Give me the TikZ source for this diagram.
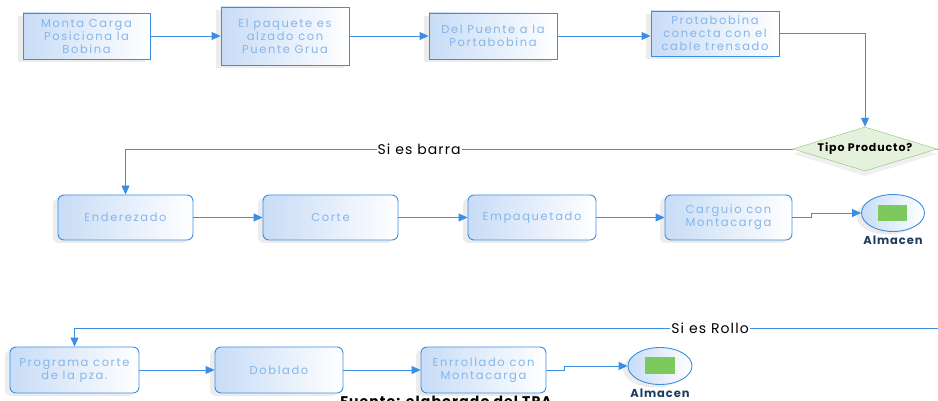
\documentclass[tikz,border=0pt]{standalone}
\usepackage{fontspec}
\setmainfont{Poppins}
\newfontfamily\boxfont[LetterSpace=14]{Poppins}
\newfontfamily\labfont[LetterSpace=8]{Poppins}
\usepackage{tikz}
\usetikzlibrary{arrows.meta, positioning, shapes.geometric, shadows}
\definecolor{lineblue}{HTML}{3C8EE3}
\definecolor{boxtext}{HTML}{85B6EA}
\definecolor{boxfill}{HTML}{C8DCF6}
\definecolor{dgreen}{HTML}{8CC56E}
\definecolor{lgreen}{HTML}{E4F1DC}
\definecolor{almgreen}{HTML}{7DC95E}
\definecolor{navy}{HTML}{1F3A60}
\tikzset{
  procbox/.style={draw=lineblue, line width=0.9pt, left color=boxfill, right color=white,
    text=boxtext, font=\boxfont\fontsize{11.5}{13}\selectfont, align=center,
    minimum height=46pt, inner sep=1pt,
    drop shadow={shadow xshift=-5pt, shadow yshift=-3pt, opacity=0.15, fill=gray}},
  roundbox/.style={procbox, rounded corners=6pt},
  almbox/.style={ellipse, draw=lineblue, line width=0.9pt, left color=boxfill, right color=white,
    minimum width=63pt, minimum height=37pt,
    drop shadow={shadow xshift=-5pt, shadow yshift=-3pt, opacity=0.15, fill=gray}},
  flow/.style={draw=lineblue, line width=0.9pt, -{Triangle[length=9pt,width=8pt]}},
  flowlab/.style={fill=white, inner sep=1pt, font=\labfont\fontsize{14}{16}\selectfont},
  almlab/.style={text=navy, font=\labfont\fontsize{11.5}{13}\selectfont\bfseries}
}

\begin{document}
\begin{tikzpicture}[x=1pt,y=-1pt]
\clip (0,0) rectangle (938,401);
\useasboundingbox (0,0) rectangle (938,401);
% fila superior
\node[procbox, minimum width=127pt] (mont) at (86.5,36) {Monta Carga\\Posiciona la\\Bobina};
\node[procbox, minimum width=128pt, minimum height=58pt] (paq) at (285,36) {El paquete es\\alzado con\\Puente Grua};
\node[procbox, minimum width=128pt] (puen) at (493,36) {Del Puente a la\\Portabobina};
\node[procbox, minimum width=128pt, minimum height=45pt] (prot) at (715,33.5) {Protabobina\\conecta con el\\cable trensado};
\node[diamond, aspect=3.3, draw=dgreen, fill=lgreen, inner sep=0pt, minimum width=144pt, minimum height=44pt,
  font=\labfont\fontsize{11}{13}\selectfont\bfseries,
  drop shadow={shadow xshift=0pt, shadow yshift=-5pt, opacity=0.12, fill=gray}] (tipo) at (865,149) {Tipo Producto?};
% barra
\node[roundbox, minimum width=135pt, minimum height=45pt] (ende) at (125.5,217.5) {Enderezado};
\node[roundbox, minimum width=135pt, minimum height=45pt] (cort) at (330.5,217.5) {Corte};
\node[roundbox, minimum width=128pt, minimum height=45pt] (empa) at (532,217.5) {Empaquetado};
\node[roundbox, minimum width=127pt, minimum height=45pt] (carg) at (728.5,217.5) {Carguio con\\Montacarga};
\node[almbox] (almA) at (893,213) {};
\fill[almgreen] (878,205) rectangle (907,221);
\node[almlab, below=1pt of almA] (almlabA) {Almacen};
% rollo
\node[roundbox, minimum width=129pt, minimum height=46pt] (prog) at (74.5,370) {Programa corte\\de la pza.};
\node[roundbox, minimum width=128pt, minimum height=46pt] (dobl) at (279,370) {Doblado};
\node[roundbox, minimum width=125pt, minimum height=46pt] (enrr) at (483.5,370) {Enrrollado con\\Montacarga};
\node[almbox, minimum width=64pt] (almB) at (660,366) {};
\fill[almgreen] (645,357) rectangle (675,374);
\node[almlab, below=1pt of almB] (almlabB) {Almacen};
\node[anchor=north, font=\labfont\fontsize{14}{16}\selectfont\bfseries] (fuente) at (446,393) {Fuente: elaborado del TPA};
\coordinate (rolloT) at (74.5,328);
% conectores
\draw[flow] (mont) -- (paq);
\draw[flow] (paq) -- (puen);
\draw[flow] (puen) -- (prot.west |- puen);
\draw[flow] (prot.east) -| (tipo.north);
\draw[flow] (tipo.west) -| node[flowlab, pos=0.28] {Si es barra} (ende.north);
\draw[flow] (ende) -- (cort);
\draw[flow] (cort) -- (empa);
\draw[flow] (empa) -- (carg);
\draw[flow] (carg.east) -- ++(19,0) |- (almA.west);
\draw[flow] (tipo.east) -- ++(30,0) |- node[flowlab, pos=0.644] {Si es Rollo} (rolloT) -- (prog.north);
\draw[flow] (prog) -- (dobl);
\draw[flow] (dobl) -- (enrr);
\draw[flow] (enrr.east) -- ++(18,0) |- (almB.west);
\end{tikzpicture}
\end{document}
